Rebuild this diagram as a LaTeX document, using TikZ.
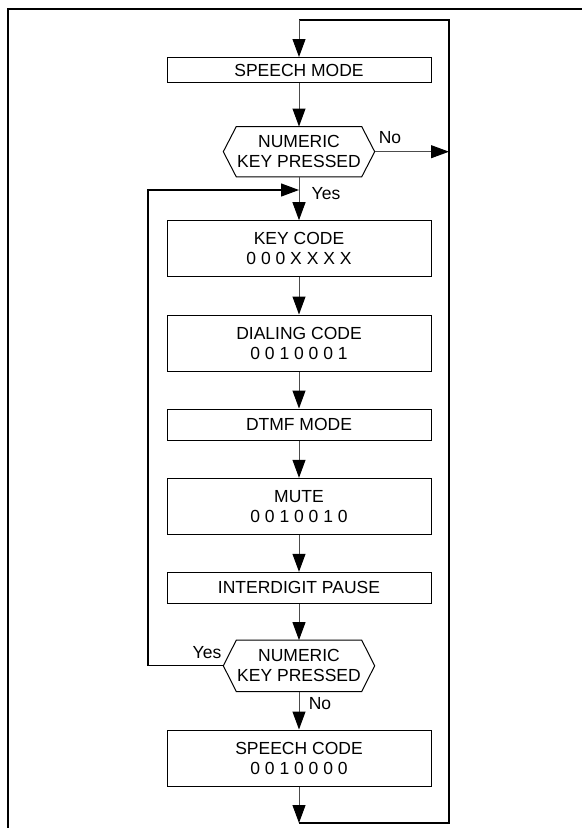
\documentclass[tikz,border=0pt]{standalone}
\usepackage{fontspec}
\setmainfont{Liberation Sans}
\usetikzlibrary{arrows.meta,calc}
\begin{document}
\begin{tikzpicture}[x=1pt,y=-1pt,
  font=\fontsize{17.5}{20}\selectfont,
  box/.style={draw=black,line width=1pt,minimum width=264pt,inner sep=0pt,align=center},
  dec/.style={minimum width=151pt,minimum height=50pt,inner sep=0pt,align=center},
  decline/.style={draw=black,line width=1pt},
  conn/.style={draw=black!70,line width=1pt},
  arr/.style={conn,-{Triangle[width=13pt,length=18pt,color=black,fill=black]}},
  lbl/.style={inner sep=0pt}
]
\useasboundingbox (0,0) rectangle (582,828);
% frame
\draw[line width=2.3pt] (7,9) -- (582,9);
\draw[line width=1.8pt] (8,8) -- (8,828);

% nodes
\node[box,minimum height=25pt] (sm) at (299,70) {SPEECH MODE};
\node[dec] (d1) at (299,151.7) {NUMERIC\\KEY PRESSED};
\node[box,minimum height=56pt] (kc) at (299,248.7) {KEY CODE\\0 0 0 X X X X};
\node[box,minimum height=56pt] (dc) at (299,343) {DIALING CODE\\0 0 1 0 0 0 1};
\node[box,minimum height=31pt] (dm) at (299,424.5) {DTMF MODE};
\node[box,minimum height=56pt] (mu) at (299,506.3) {MUTE\\0 0 1 0 0 1 0};
\node[box,minimum height=31pt] (ip) at (299,587.8) {INTERDIGIT PAUSE};
\node[dec,minimum height=51pt] (d2) at (299,665.8) {NUMERIC\\KEY PRESSED};
\node[box,minimum height=56pt] (sc) at (299,758) {SPEECH CODE\\0 0 1 0 0 0 0};

% decision outlines
\foreach \d in {d1,d2}{
  \draw[decline] (\d.west) -- ([xshift=13pt]\d.north west) -- ([xshift=-13pt]\d.north east)
    -- (\d.east) -- ([xshift=-13pt]\d.south east) -- ([xshift=13pt]\d.south west) -- cycle;
}

% coordinates
\coordinate (top) at (299,20);
\coordinate (tr) at (449,20);
\coordinate (br) at (449,823);
\coordinate (bot) at (299,823);
\coordinate (noR) at (449,151.7);
\coordinate (ll) at (148,665.8);
\coordinate (ul) at (148,190);
\coordinate (yesin) at (299,190);

% connectors
\draw[arr] (sm.south) -- (d1.north);
\draw[arr] (d1.south) -- (kc.north);
\draw[arr] (kc.south) -- (dc.north);
\draw[arr] (dc.south) -- (dm.north);
\draw[arr] (dm.south) -- (mu.north);
\draw[arr] (mu.south) -- (ip.north);
\draw[arr] (ip.south) -- (d2.north);
\draw[arr] (d2.south) -- (sc.north);
\draw[arr] (sc.south) -- (bot);
\draw[conn,draw=black,line width=1.3pt] (bot) -- (br) -- (tr) -- (top);
\draw[arr] (top) -- (sm.north);
\draw[arr] (d1.east) -- (noR);
\draw[arr,draw=black,line width=1.3pt] (d2.west) -- (ll) -- (ul) -- (yesin);

% labels
\node[lbl] (l1) at (390,137.5) {No};
\node[lbl] (l2) at (326,194) {Yes};
\node[lbl] (l3) at (207,653) {Yes};
\node[lbl] (l4) at (320,703.5) {No};
\end{tikzpicture}
\end{document}
